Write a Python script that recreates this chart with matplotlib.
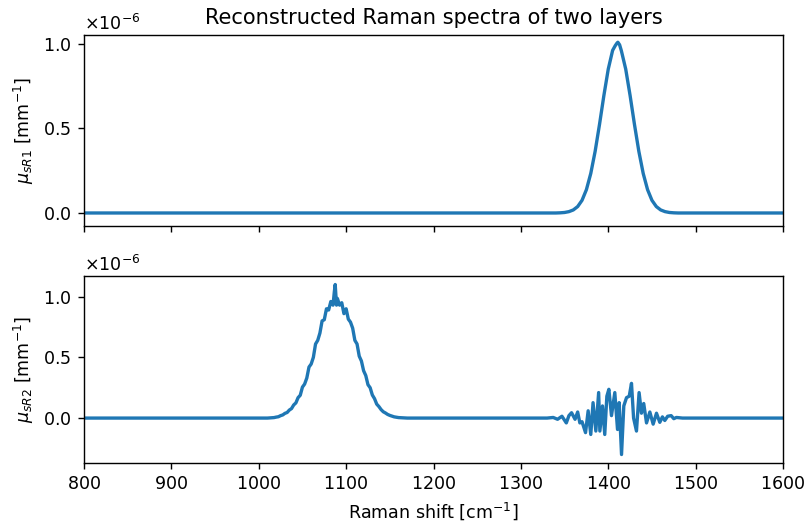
import matplotlib
matplotlib.use("Agg")
import matplotlib.pyplot as plt
import numpy as np

plt.rcParams['axes.formatter.use_mathtext'] = True

# Layer 1 spectrum (values in units of 1e-6 mm^-1)
shift1 = [800, 1340, 1345, 1350, 1355, 1360, 1365, 1370,
          1375, 1380, 1385, 1390, 1395, 1400, 1405, 1408, 1410, 1411, 1413, 1415, 1420,
          1425, 1430, 1435, 1440, 1445, 1450, 1455, 1460, 1465, 1470, 1475, 1480, 1600]
mu1 = [0.0, 0.0, 0.001, 0.003, 0.008, 0.018, 0.038, 0.075,
       0.138, 0.234, 0.365, 0.524, 0.695, 0.851, 0.962, 0.99, 1.005, 1.01, 0.995, 0.96, 0.851,
       0.695, 0.524, 0.365, 0.234, 0.138, 0.075, 0.038, 0.018, 0.008, 0.003, 0.001, 0.0, 0.0]

# Layer 2 spectrum (values in units of 1e-6 mm^-1)
shift2 = [800, 1010, 1017.5, 1020, 1022.5, 1025, 1027.5, 1030, 1032.5, 1035, 1037.5, 1040,
          1042.5, 1045, 1047.5, 1050, 1052.5, 1055, 1057.5, 1060, 1062.5, 1065, 1067.5,
          1070, 1072.5, 1075, 1077.5, 1080, 1082.5, 1085, 1086.5, 1087.5, 1089, 1090,
          1092.5, 1095, 1097.5, 1100, 1102.5, 1105, 1107.5, 1110, 1112.5, 1115, 1117.5,
          1120, 1122.5, 1125, 1127.5, 1130, 1132.5, 1135, 1137.5, 1140, 1142.5, 1145,
          1147.5, 1150, 1155, 1160, 1170,
          1330, 1337, 1342, 1347, 1352, 1355, 1358, 1362, 1365, 1367.5, 1370, 1374, 1377,
          1380, 1382.6, 1385.8, 1389, 1390.4, 1393.4, 1396, 1398.4, 1400.7, 1403.7, 1407.5,
          1410.6, 1412.5, 1415.2, 1417.8, 1420.9, 1424, 1426.6, 1429, 1432.3, 1435.3, 1438,
          1440.6, 1443.8, 1447.6, 1451.4, 1455.2, 1459, 1462, 1464.7, 1468, 1472, 1475,
          1478, 1485, 1600]
mu2 = [0.0, 0.0, 0.004, 0.008, 0.011, 0.020, 0.026, 0.039, 0.046, 0.066, 0.078, 0.108,
       0.125, 0.168, 0.188, 0.255, 0.280, 0.330, 0.420, 0.445, 0.500, 0.610, 0.640,
       0.700, 0.800, 0.810, 0.900, 0.890, 0.960, 0.930, 1.040, 1.100, 0.930, 0.985,
       0.930, 0.950, 0.860, 0.900, 0.815, 0.790, 0.740, 0.640, 0.610, 0.510, 0.470,
       0.390, 0.350, 0.275, 0.250, 0.190, 0.160, 0.115, 0.095, 0.070, 0.052, 0.042,
       0.030, 0.022, 0.010, 0.004, 0.0,
       0.0, 0.005, -0.01, 0.015, -0.04, 0.02, 0.044, -0.01, 0.05, -0.04, -0.03, -0.12, 0.06,
       -0.135, 0.127, -0.107, 0.21, -0.107, 0.10, -0.135, 0.18, 0.237, 0.02, 0.21,
       -0.094, 0.127, -0.30, 0.10, 0.168, 0.18, 0.286, 0.0, -0.107, 0.21, 0.04,
       0.12, -0.04, 0.05, -0.05, 0.04, -0.035, 0.01, -0.02, 0.015, 0.02, -0.005,
       0.005, 0.0, 0.0]

scale = 1e-6

fig = plt.figure(figsize=(6.4, 531 / 126.25), dpi=126.25)
ax1 = fig.add_axes([84 / 808, 1 - 226 / 531, (783 - 84) / 808, (226 - 35) / 531])
ax2 = fig.add_axes([84 / 808, 1 - 463 / 531, (783 - 84) / 808, (463 - 276) / 531], sharex=ax1)

ax1.plot(shift1, np.array(mu1) * scale, color='#1f77b4', lw=1.9)
ax2.plot(shift2, np.array(mu2) * scale, color='#1f77b4', lw=1.9)

ax1.set_xlim(800, 1600)
ax1.set_ylim(-0.077e-6, 1.053e-6)
ax2.set_ylim(-0.37e-6, 1.17e-6)
ax1.set_yticks([0, 0.5e-6, 1.0e-6])
ax2.set_yticks([0, 0.5e-6, 1.0e-6])
ax2.set_xticks([800, 900, 1000, 1100, 1200, 1300, 1400, 1500, 1600])
plt.setp(ax1.get_xticklabels(), visible=False)

ax1.set_title('Reconstructed Raman spectra of two layers')
ax1.set_ylabel(r'$\mu_{sR1}$ [mm$^{-1}$]')
ax2.set_ylabel(r'$\mu_{sR2}$ [mm$^{-1}$]')
ax2.set_xlabel(r'Raman shift [cm$^{-1}$]')

fig.savefig('out.png', dpi=126.25)
